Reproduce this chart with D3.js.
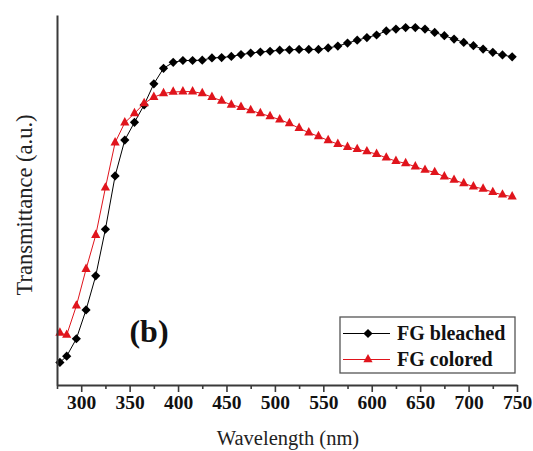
<!DOCTYPE html>
<html>
<head>
<meta charset="utf-8">
<script src="https://cdn.jsdelivr.net/npm/d3@7"></script>
<style>
  html, body { margin: 0; padding: 0; background: #fff; }
  svg { display: block; }
</style>
</head>
<body>
<svg id="chart" width="533" height="451"></svg>
<script>
// Wavelengths (nm) of the measured points
const wavelengths = [278, 285, 295, 305, 315, 325, 335, 345, 355, 365, 375, 385, 395, 405, 415, 425,
  435, 445, 455, 465, 475, 485, 495, 505, 515, 525, 535, 545, 555, 565, 575, 585, 595, 605, 615,
  625, 635, 645, 655, 665, 675, 685, 695, 705, 715, 725, 735, 745];

// Transmittance (a.u.) of the bleached film
const bleached = [6.1, 7.8, 12.5, 20.3, 29.5, 42.1, 56.5, 66.2, 71.0, 75.7, 81.4, 85.6, 87.2, 87.7, 87.7, 87.8,
  88.4, 88.5, 88.8, 89.3, 89.7, 90.0, 90.2, 90.5, 90.6, 90.7, 90.7, 90.7, 91.1, 91.6, 92.4, 93.2, 93.9, 94.6, 95.7,
  96.2, 96.6, 96.6, 96.2, 95.3, 94.4, 93.5, 92.6, 91.7, 90.8, 89.9, 89.2, 88.7];

// Transmittance (a.u.) of the colored film
const colored = [14.1, 13.5, 21.4, 31.3, 40.5, 53.3, 65.5, 70.9, 73.4, 76.1, 77.8, 78.8, 79.2, 79.3, 79.3, 78.8,
  77.8, 76.8, 75.7, 75.1, 74.2, 73.4, 72.6, 71.7, 70.7, 69.4, 68.2, 67.2, 66.1, 65.1, 64.3, 63.7, 63.1, 62.4, 61.4,
  60.5, 59.9, 59.0, 58.1, 57.5, 56.3, 55.4, 54.5, 53.6, 53.0, 52.1, 51.4, 50.9];

const seriesNames = ["FG bleached", "FG colored"];
const seriesColors = ["#000000", "#e0141c"];
const seriesMarkers = ["diamond", "triangle"];

const majorTicks = [300, 350, 400, 450, 500, 550, 600, 650, 700, 750];
const minorTicks = [275, 325, 375, 425, 475, 525, 575, 625, 675, 725];

const xDomain = [275, 750];
const yDomain = [0, 100];

const serif = "'Liberation Serif', 'Times New Roman', serif";
const svg = d3.select("#chart");

const x = d3.scaleLinear().domain(xDomain).range([57, 517]);
const y = d3.scaleLinear().domain(yDomain).range([385, 15]);

const series = seriesNames.map((name, i) => ({
  name,
  color: seriesColors[i],
  marker: seriesMarkers[i],
  points: wavelengths.map((w, j) => ({ w, v: (i === 0 ? bleached : colored)[j] }))
}));

// Marker shapes
function markerPath(type) {
  if (type === "diamond") {
    const r = 4.6;
    return `M0,${-r}L${r},0L0,${r}L${-r},0Z`;
  }
  const hw = 4.6, h = 8.4;
  return `M0,${-h * 2 / 3}L${hw},${h / 3}L${-hw},${h / 3}Z`;
}

const line = d3.line().x(d => x(d.w)).y(d => y(d.v));

const plot = svg.append("g");
series.forEach(s => {
  plot.append("path")
    .datum(s.points)
    .attr("d", line)
    .attr("fill", "none")
    .attr("stroke", s.color)
    .attr("stroke-width", 1);
});
series.forEach(s => {
  plot.selectAll(null)
    .data(s.points)
    .enter()
    .append("path")
    .attr("d", markerPath(s.marker))
    .attr("transform", d => `translate(${x(d.w)},${y(d.v)})`)
    .attr("fill", s.color);
});

// Bottom axis: major ticks with labels, minor ticks without
const axisColor = "#3a3a3a";
const xAxis = svg.append("g").attr("transform", "translate(0,385)");
xAxis.append("g")
  .call(d3.axisBottom(x).tickValues(majorTicks).tickSize(7).tickSizeOuter(0).tickPadding(3).tickFormat(d3.format("d")))
  .call(g => g.select(".domain").attr("stroke", axisColor).attr("stroke-width", 2))
  .call(g => g.selectAll(".tick line").attr("stroke", axisColor).attr("stroke-width", 1.6))
  .call(g => g.selectAll(".tick text")
    .attr("fill", "#111")
    .style("font-family", serif)
    .style("font-weight", "bold")
    .style("font-size", "19.5px"));
xAxis.append("g")
  .call(d3.axisBottom(x).tickValues(minorTicks).tickSize(4).tickSizeOuter(0).tickFormat(""))
  .call(g => g.select(".domain").remove())
  .call(g => g.selectAll(".tick line").attr("stroke", axisColor).attr("stroke-width", 1.6));

// Left axis without ticks
svg.append("g")
  .attr("transform", "translate(57,0)")
  .call(d3.axisLeft(y).tickValues([]).tickSizeOuter(0))
  .call(g => g.select(".domain").attr("stroke", axisColor).attr("stroke-width", 2));

// Axis titles
svg.append("text")
  .attr("x", 288)
  .attr("y", 445)
  .attr("text-anchor", "middle")
  .style("font-family", serif)
  .style("font-size", "20.5px")
  .attr("fill", "#222")
  .text("Wavelength (nm)");

svg.append("text")
  .attr("transform", "translate(32,205) rotate(-90)")
  .attr("text-anchor", "middle")
  .style("font-family", serif)
  .style("font-size", "22.5px")
  .attr("fill", "#222")
  .text("Transmittance (a.u.)");

// Panel label
svg.append("text")
  .attr("x", 149)
  .attr("y", 342)
  .attr("text-anchor", "middle")
  .style("font-family", serif)
  .style("font-size", "32px")
  .style("font-weight", "bold")
  .attr("fill", "#111")
  .text("(b)");

// Legend
const legend = svg.append("g").attr("transform", "translate(340,317)");
legend.append("rect")
  .attr("width", 175)
  .attr("height", 56)
  .attr("fill", "#fff")
  .attr("stroke", "#555")
  .attr("stroke-width", 1.3);
series.forEach((s, i) => {
  const row = legend.append("g").attr("transform", `translate(0,${16.5 + i * 26})`);
  row.append("line")
    .attr("x1", 3).attr("x2", 50)
    .attr("stroke", s.color).attr("stroke-width", 1);
  row.append("path")
    .attr("d", markerPath(s.marker))
    .attr("transform", "translate(28,0)")
    .attr("fill", s.color);
  row.append("text")
    .attr("x", 57)
    .attr("y", 6.5)
    .style("font-family", serif)
    .style("font-size", "20px")
    .style("font-weight", "bold")
    .attr("fill", "#111")
    .text(s.name);
});
</script>
</body>
</html>
